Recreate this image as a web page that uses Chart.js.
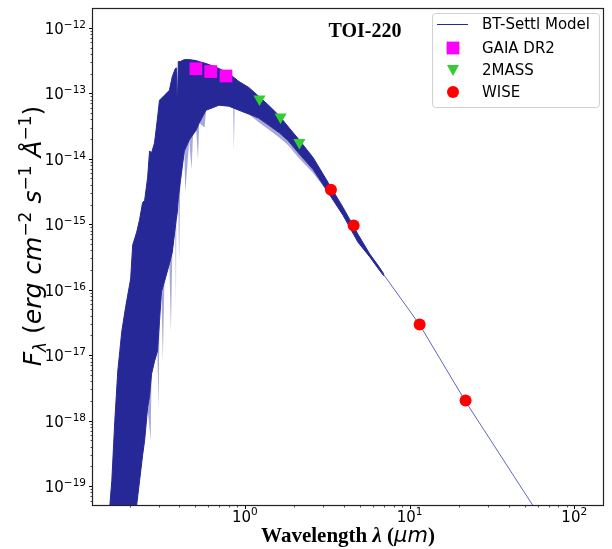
<!DOCTYPE html>
<html>
<head>
<meta charset="utf-8">
<script src="https://cdn.jsdelivr.net/npm/chart.js@4.4.0/dist/chart.umd.min.js"></script>
<style>
html, body { margin: 0; padding: 0; background: #fff; }
</style>
</head>
<body>
<canvas id="js--sed" width="612" height="549"></canvas>
<script>
const lamModel = [0.1475, 0.1517, 0.1559, 0.1625, 0.1694, 0.1742, 0.1791, 0.1892, 0.2028, 0.2086,
    0.2206, 0.2299, 0.2396, 0.2465, 0.2570, 0.2642, 0.2716, 0.2831, 0.2951, 0.3034,
    0.3119, 0.3251, 0.3484, 0.3631, 0.3786, 0.3839, 0.3892, 0.3947, 0.4057, 0.4295,
    0.4603, 0.5070, 0.5284, 0.5821, 0.6502, 0.6968, 0.8010, 0.9201, 1.057, 1.214,
    1.395, 1.625, 1.841, 2.115, 2.604, 3.206, 3.948, 4.862, 5.741, 6.415, 6.972];
const fluxUpper = [1e-21, 5.15e-20, 1.23e-19, 1.0e-18, 5.73e-18, 1.15e-17, 2.31e-17, 5.52e-17, 1.47e-16, 4.81e-16,
    7.57e-16, 1.19e-15, 2.15e-15, 2.31e-15, 5.15e-15, 1.32e-14, 1.23e-14, 1.75e-14, 4.18e-14, 7.83e-14,
    8.4e-14, 9.33e-14, 1.11e-13, 1.81e-13, 2.39e-13, 2.45e-13, 5.93e-14, 3.05e-13, 3.05e-13, 3.27e-13,
    3.27e-13, 3.16e-13, 3.05e-13, 2.85e-13, 2.57e-13, 2.39e-13, 2.01e-13, 1.52e-13, 1.23e-13, 9.01e-14,
    6.58e-14, 4.49e-14, 3.05e-14, 2.01e-14, 1.035e-14, 4.33e-15, 1.81e-15, 7.05e-16, 3.51e-16, 2.39e-16, 1.75e-16];
const fluxLower = [1e-21, 1e-21, 1e-21, 1e-21, 1e-21, 1e-21, 1e-21, 1e-21, 1e-21, 1e-21,
    5.15e-20, 1.23e-19, 2.95e-19, 4.98e-19, 1.57e-18, 2.39e-18, 5.15e-18, 8.11e-18, 1.15e-17, 3.27e-17,
    9.33e-17, 1.32e-16, 2.48e-16, 3.77e-16, 9.01e-16, 1.2e-15, 1.52e-15, 2.5e-15, 4.33e-15, 1.32e-14,
    1.94e-14, 2.75e-14, 3.51e-14, 5.52e-14, 6.14e-14, 6.58e-14, 6.35e-14, 5.52e-14, 4.81e-14, 4.18e-14,
    3.27e-14, 2.48e-14, 1.875e-14, 1.23e-14, 6.81e-15, 3.05e-15, 1.37e-15, 5.33e-16, 3.16e-16, 2.15e-16, 1.63e-16];

// faint absorption lines hanging below the dense part
const lamSpikes = [0.2206, 0.2570, 0.2680, 0.2716, 0.2951, 0.2990, 0.3034, 0.3119, 0.3180, 0.3251,
    0.3484, 0.3560, 0.3631, 0.3786, 0.3820, 0.3839, 0.3947, 0.3990, 0.4057, 0.4295,
    0.4350, 0.4603, 0.4750, 0.4850, 0.5070, 0.5200, 0.5284, 0.5700, 0.5821, 0.6502,
    0.6968, 0.8010, 0.8500, 0.8585, 0.8670, 0.9201, 1.057, 1.214, 1.395, 1.625,
    1.841, 2.115, 2.604, 3.206];
const fluxSpikes = [5.15e-20, 1.57e-18, 4.98e-19, 5.15e-18, 1.15e-17, 1.4e-18, 3.27e-17, 9.33e-17, 8.1e-18, 1.32e-16,
    2.48e-16, 2.3e-17, 3.77e-16, 9.01e-16, 5.5e-17, 1.2e-15, 2.5e-15, 2.65e-16, 4.33e-15, 1.32e-14,
    3.05e-15, 1.94e-14, 6.81e-15, 2.3e-14, 2.75e-14, 9.66e-15, 3.51e-14, 3.0e-14, 5.52e-14, 6.14e-14,
    6.58e-14, 6.35e-14, 6.0e-14, 1.32e-14, 5.9e-14, 5.52e-14, 4.81e-14, 3.6e-14, 2.8e-14, 2.1e-14,
    1.6e-14, 1.05e-14, 6.0e-15, 3.05e-15];

// Rayleigh-Jeans tail, thin line
const lamTail = [6.415, 6.972, 11.49, 21.75, 60];
const fluxTail = [2.3e-16, 1.70e-16, 2.95e-17, 2.01e-18, 3.9e-20];

// photometry
const gaiaLam = [0.505, 0.621, 0.769];
const gaiaFlux = [2.37e-13, 2.15e-13, 1.84e-13];
const tmassLam = [1.228, 1.648, 2.145];
const tmassFlux = [8.22e-14, 4.35e-14, 1.77e-14];
const wiseLam = [3.334, 4.58, 11.52, 21.9];
const wiseFlux = [3.37e-15, 9.55e-16, 2.95e-17, 2.03e-18];

const xMajor = [1, 10, 100];
const xMinor = [0.2, 0.3, 0.4, 0.5, 0.6, 0.7, 0.8, 0.9, 2, 3, 4, 5, 6, 7, 8, 9, 20, 30, 40, 50, 60, 70, 80, 90];
const yExp = [-19, -18, -17, -16, -15, -14, -13, -12];

const legendNames = ["BT-Settl Model", "GAIA DR2", "2MASS", "WISE"];

const navy = 'rgb(38,40,152)';

function pts(xs, ys) {
    return xs.map((x, i) => ({x: x, y: ys[i]}));
}

function richWidth(ctx, parts) {
    let w = 0;
    for (const p of parts) { ctx.font = p.f; w += ctx.measureText(p.t).width; }
    return w;
}
function richDraw(ctx, parts, x, y) {
    for (const p of parts) {
        ctx.font = p.f;
        ctx.fillText(p.t, x, y + (p.dy || 0));
        x += ctx.measureText(p.t).width;
    }
}

const decor = {
    id: 'decor',
    afterDraw(chart) {
        const ctx = chart.ctx;
        const a = chart.chartArea;
        const xs = chart.scales.x, ys = chart.scales.y;
        ctx.save();
        ctx.fillStyle = '#000';
        ctx.strokeStyle = '#000';

        // ticks
        ctx.lineWidth = 1;
        ctx.beginPath();
        xMajor.forEach(v => { const p = Math.round(xs.getPixelForValue(v)) + 0.5; ctx.moveTo(p, a.bottom); ctx.lineTo(p, a.bottom + 4); });
        yExp.forEach(e => { const p = Math.round(ys.getPixelForValue(Math.pow(10, e))) + 0.5; ctx.moveTo(a.left, p); ctx.lineTo(a.left - 4, p); });
        ctx.stroke();
        ctx.lineWidth = 0.7;
        ctx.beginPath();
        xMinor.forEach(v => { const p = Math.round(xs.getPixelForValue(v)) + 0.5; ctx.moveTo(p, a.bottom); ctx.lineTo(p, a.bottom + 2.5); });
        for (let e = -20; e <= -12; e++) {
            for (let m = 2; m <= 9; m++) {
                const v = m * Math.pow(10, e);
                if (v < ys.min || v > ys.max) continue;
                const p = Math.round(ys.getPixelForValue(v)) + 0.5;
                ctx.moveTo(a.left, p); ctx.lineTo(a.left - 2.5, p);
            }
        }
        ctx.stroke();

        // frame
        ctx.lineWidth = 1.2;
        ctx.strokeStyle = '#222';
        ctx.strokeRect(a.left - 0.5, a.top - 0.5, a.right - a.left + 1, a.bottom - a.top + 1);

        // tick labels
        const big = '15px "DejaVu Sans"', small = '10.5px "DejaVu Sans"';
        ctx.textBaseline = 'alphabetic';
        ctx.textAlign = 'left';
        yExp.forEach(e => {
            const p = ys.getPixelForValue(Math.pow(10, e));
            const parts = [{t: '10', f: big}, {t: '\u2212' + Math.abs(e), f: small, dy: -6}];
            const w = richWidth(ctx, parts);
            richDraw(ctx, parts, a.left - 7 - w, p + 6);
        });
        xMajor.forEach((v, i) => {
            const p = xs.getPixelForValue(v);
            const parts = [{t: '10', f: big}, {t: String(i), f: small, dy: -7}];
            const w = richWidth(ctx, parts);
            richDraw(ctx, parts, p - w / 2, a.bottom + 17);
        });

        // x title
        const xt = [
            {t: 'Wavelength ', f: 'bold 21px "Liberation Serif"'},
            {t: '\u03bb', f: 'italic bold 21px "Liberation Serif"'},
            {t: ' (', f: 'bold 21px "Liberation Serif"'},
            {t: '\u00b5m', f: 'italic 21px "DejaVu Sans"'},
            {t: ')', f: 'bold 21px "Liberation Serif"'}
        ];
        const xw = richWidth(ctx, xt);
        richDraw(ctx, xt, (a.left + a.right) / 2 - xw / 2, 542);

        // y title
        const it = 'italic 25px "DejaVu Sans"', rm = '25px "DejaVu Sans"', sup = '17px "DejaVu Sans"';
        const yt = [
            {t: 'F', f: it},
            {t: '\u03bb', f: 'italic 17px "DejaVu Sans"', dy: 5},
            {t: ' (', f: rm},
            {t: 'erg cm', f: it},
            {t: '\u22122', f: sup, dy: -10},
            {t: ' s', f: it},
            {t: '\u22121', f: sup, dy: -10},
            {t: ' \u00c5', f: it},
            {t: '\u22121', f: sup, dy: -10},
            {t: ')', f: rm}
        ];
        const yw = richWidth(ctx, yt);
        ctx.save();
        ctx.translate(41, 236 + yw / 2);
        ctx.rotate(-Math.PI / 2);
        richDraw(ctx, yt, 0, 0);
        ctx.restore();

        // title
        ctx.font = 'bold 20px "Liberation Serif"';
        ctx.textAlign = 'center';
        ctx.fillText('TOI-220', 365, 37);

        // legend
        const bx = 432, by = 13, bw = 167, bh = 94;
        ctx.beginPath();
        ctx.roundRect(bx + 0.5, by + 0.5, bw, bh, 3);
        ctx.fillStyle = 'rgba(255,255,255,0.85)';
        ctx.fill();
        ctx.lineWidth = 1;
        ctx.strokeStyle = '#d0d0d0';
        ctx.stroke();
        const rowY = [24.5, 48, 70, 92];
        ctx.strokeStyle = navy;
        ctx.beginPath();
        ctx.moveTo(437, rowY[0]); ctx.lineTo(468, rowY[0]);
        ctx.stroke();
        ctx.fillStyle = '#ff00ff';
        ctx.fillRect(453 - 6.4, rowY[1] - 6.4, 12.8, 12.8);
        ctx.fillStyle = '#32cd32';
        ctx.beginPath();
        ctx.moveTo(447, rowY[2] - 5); ctx.lineTo(459, rowY[2] - 5); ctx.lineTo(453, rowY[2] + 6);
        ctx.closePath(); ctx.fill();
        ctx.fillStyle = '#ff0000';
        ctx.beginPath(); ctx.arc(453, rowY[3], 6, 0, Math.PI * 2); ctx.fill();
        ctx.fillStyle = '#000';
        ctx.textAlign = 'left';
        ctx.textBaseline = 'middle';
        ctx.font = '15px "DejaVu Sans"';
        legendNames.forEach((n, i) => ctx.fillText(n, 482, rowY[i] + 1));

        ctx.restore();
    }
};

const data = {
    datasets: [
        {type: 'scatter', label: 'GAIA DR2', data: pts(gaiaLam, gaiaFlux), pointStyle: 'rect', pointRadius: 9,
            backgroundColor: '#ff00ff', borderWidth: 0},
        {type: 'scatter', label: '2MASS', data: pts(tmassLam, tmassFlux), pointStyle: 'triangle', rotation: 180, pointRadius: 7,
            backgroundColor: '#32cd32', borderWidth: 0},
        {type: 'scatter', label: 'WISE', data: pts(wiseLam, wiseFlux), pointStyle: 'circle', pointRadius: 6,
            backgroundColor: '#ff0000', borderWidth: 0},
        {type: 'line', label: 'upper', data: pts(lamModel, fluxUpper), borderColor: navy, borderWidth: 1,
            pointRadius: 0, tension: 0, fill: false},
        {type: 'line', label: 'lower', data: pts(lamModel, fluxLower), borderColor: navy, borderWidth: 1,
            pointRadius: 0, tension: 0, fill: '-1', backgroundColor: navy},
        {type: 'line', label: 'spikes', data: pts(lamSpikes, fluxSpikes), borderColor: 'rgba(38,40,152,0)', borderWidth: 0,
            pointRadius: 0, tension: 0, fill: '-1', backgroundColor: 'rgba(38,40,152,0.4)'},
        {type: 'line', label: 'tail', data: pts(lamTail, fluxTail), borderColor: 'rgba(60,62,180,0.8)', borderWidth: 1,
            pointRadius: 0, tension: 0, fill: false}
    ]
};

const config = {
    type: 'scatter',
    data: data,
    options: {
        responsive: false,
        animation: false,
        layout: {padding: {top: 5, right: 5, left: 0, bottom: 0}},
        plugins: {legend: {display: false}, tooltip: {enabled: false}},
        scales: {
            x: {
                type: 'logarithmic', min: 0.1198, max: 149.5,
                ticks: {display: false}, grid: {display: false}, border: {display: false},
                afterFit: s => { s.height = 44; }
            },
            y: {
                type: 'logarithmic', min: 5.15e-20, max: 1.94e-12,
                ticks: {display: false}, grid: {display: false}, border: {display: false},
                afterFit: s => { s.width = 93; }
            }
        }
    },
    plugins: [decor]
};

new Chart(document.getElementById("js--sed"), config);
</script>
</body>
</html>
